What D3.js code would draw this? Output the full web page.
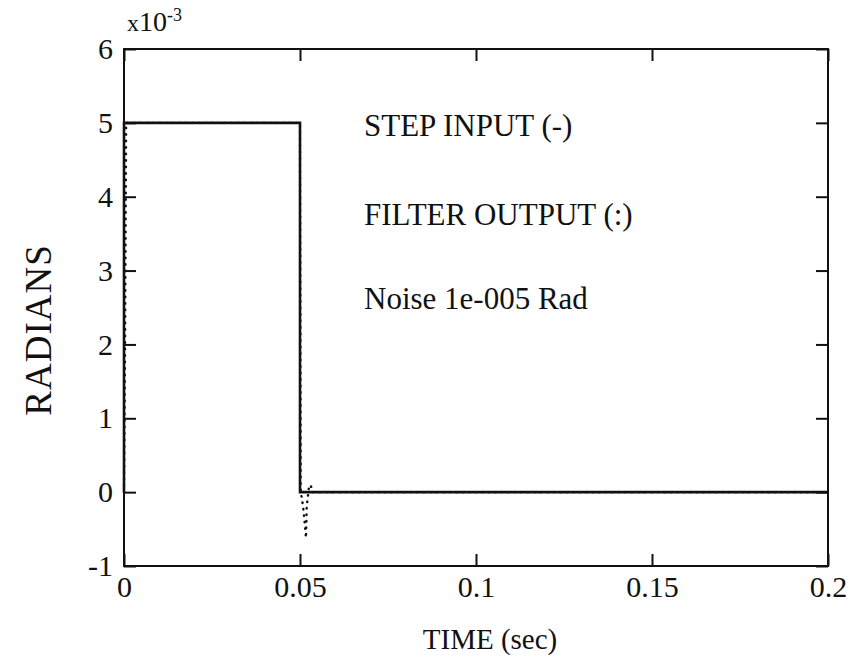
<!DOCTYPE html>
<html>
<head>
<meta charset="utf-8">
<script src="https://cdn.jsdelivr.net/npm/d3@7"></script>
<style>
  html, body { margin: 0; padding: 0; background: #fff; }
  svg { display: block; }
  text { font-family: "Liberation Serif", "Times New Roman", serif; fill: #111; }
</style>
</head>
<body>
<svg id="chart" width="852" height="667"></svg>
<script>
// ---- data ----
const xTicks = [0, 0.05, 0.1, 0.15, 0.2];
const xTickLabels = ["0", "0.05", "0.1", "0.15", "0.2"];
const yTicks = [-1, 0, 1, 2, 3, 4, 5, 6];
const yTickLabels = ["-1", "0", "1", "2", "3", "4", "5", "6"];

// step input (x10^-3 rad)
const stepTime = [0, 0, 0.05, 0.05, 0.2];
const stepValue = [0, 5, 5, 0, 0];

// filter output (x10^-3 rad)
const filterTime = [0, 0.0003, 0.0006, 0.05, 0.0502, 0.0506, 0.051, 0.0514, 0.0517, 0.0519, 0.0525, 0.053, 0.0536, 0.2];
const filterValue = [0, 2.0, 5.0, 5.0, 0.0, -0.1, -0.25, -0.45, -0.62, -0.2, 0.05, 0.1, 0.0, 0.0];

const annotations = ["STEP INPUT (-)", "FILTER OUTPUT (:)", "Noise 1e-005 Rad"];

// ---- layout ----
const svg = d3.select("#chart");
const mLeft = 124, mRight = 828, mTop = 49, mBottom = 566;

const x = d3.scaleLinear().domain([0, 0.2]).range([mLeft, mRight]);
const y = d3.scaleLinear().domain([-1, 6]).range([mBottom, mTop]);

const tickLen = 12;

// filter output (dotted) under step
const filterData = filterTime.map((t, i) => [t, filterValue[i]]);
const stepData = stepTime.map((t, i) => [t, stepValue[i]]);
const line = d3.line().x(d => x(d[0])).y(d => y(d[1]));

svg.append("path")
  .datum(filterData)
  .attr("d", line)
  .attr("fill", "none")
  .attr("stroke", "#111")
  .attr("stroke-width", 2.4)
  .attr("stroke-linecap", "round")
  .attr("stroke-dasharray", "0.5,6");

svg.append("path")
  .datum(stepData)
  .attr("d", line)
  .attr("fill", "none")
  .attr("stroke", "#111")
  .attr("stroke-width", 2.6);

// axes
const fs = 30;
const gx = svg.append("g").attr("transform", `translate(0,${mBottom})`)
  .call(d3.axisBottom(x).tickValues(xTicks)
    .tickFormat((d, i) => xTickLabels[i])
    .tickSizeInner(-tickLen).tickSizeOuter(0).tickPadding(10));
const gxt = svg.append("g").attr("transform", `translate(0,${mTop})`)
  .call(d3.axisTop(x).tickValues(xTicks).tickFormat("")
    .tickSizeInner(-tickLen).tickSizeOuter(0));
const gy = svg.append("g").attr("transform", `translate(${mLeft},0)`)
  .call(d3.axisLeft(y).tickValues(yTicks)
    .tickFormat((d, i) => yTickLabels[i])
    .tickSizeInner(-tickLen).tickSizeOuter(0).tickPadding(11));
const gyr = svg.append("g").attr("transform", `translate(${mRight},0)`)
  .call(d3.axisRight(y).tickValues(yTicks).tickFormat("")
    .tickSizeInner(-tickLen).tickSizeOuter(0));

[gx, gxt, gy, gyr].forEach(g => {
  g.select(".domain").remove();
  g.selectAll("line").attr("stroke", "#111").attr("stroke-width", 2);
  g.selectAll("text").attr("font-size", fs).attr("fill", "#111")
    .style("font-family", '"Liberation Serif", serif');
});

// frame
svg.append("rect")
  .attr("x", mLeft).attr("y", mTop)
  .attr("width", mRight - mLeft).attr("height", mBottom - mTop)
  .attr("fill", "none").attr("stroke", "#111").attr("stroke-width", 2);

// exponent label
const ex = svg.append("text").attr("x", 127).attr("y", 31).attr("font-size", 28);
ex.append("tspan").attr("font-size", 24).text("x");
ex.append("tspan").text("10");
ex.append("tspan").attr("dy", -10).attr("font-size", 18).text("-3");

// annotations
const annY = [136, 225, 309];
annotations.forEach((a, i) => {
  svg.append("text").attr("x", 364).attr("y", annY[i])
    .attr("font-size", 31).text(a);
});

// axis labels
svg.append("text").attr("x", 490).attr("y", 649)
  .attr("text-anchor", "middle").attr("font-size", 29).text("TIME (sec)");
svg.append("text")
  .attr("transform", `translate(51,${330}) rotate(-90)`)
  .attr("text-anchor", "middle").attr("font-size", 37)
  .attr("letter-spacing", 1).text("RADIANS");
</script>
</body>
</html>
